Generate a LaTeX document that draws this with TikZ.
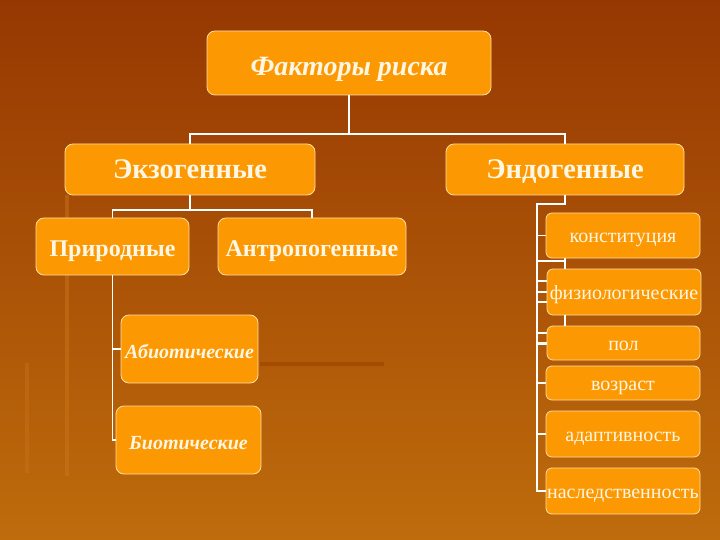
\documentclass[tikz,border=0pt]{standalone}
\usepackage{fontspec}
\setmainfont{Liberation Serif}
\definecolor{bgtop}{RGB}{150,56,2}
\definecolor{bgbot}{RGB}{190,108,12}
\definecolor{boxfill}{RGB}{252,152,2}
\definecolor{boxline}{RGB}{255,222,160}
\definecolor{txt}{RGB}{255,246,228}
\definecolor{deco}{RGB}{205,120,30}
\definecolor{darkbar}{RGB}{160,72,0}
\tikzset{
  box/.style={draw=boxline, line width=0.8pt, fill=boxfill, rounded corners=8pt,
    text=txt, inner sep=0pt, align=center},
  smallbox/.style={box, rounded corners=6pt},
  conn/.style={draw=white, line width=1.4pt},
  toptext/.style={font=\fontsize{28}{30}\selectfont\bfseries\itshape, text height=26.6pt, text depth=1.1pt},
  lvltext/.style={font=\fontsize{28.5}{30}\selectfont\bfseries, text height=20pt, text depth=1.1pt},
  subtext/.style={font=\fontsize{24}{28}\selectfont\bfseries, text height=21.6pt, text depth=0.7pt},
  ittext/.style={font=\fontsize{20}{24}\selectfont\bfseries\itshape, text height=19pt, text depth=0.8pt},
  rtext/.style={font=\fontsize{20}{24}\selectfont, text height=15pt, text depth=0.8pt},
}
\begin{document}
\begin{tikzpicture}[x=1pt,y=-1pt]
\useasboundingbox (0,0) rectangle (720,540);
\shade[top color=bgtop, bottom color=bgbot] (0,0) rectangle (720,540);
% faint background decoration
\fill[deco, opacity=0.45] (65,195) rectangle (69,476);
\fill[deco, opacity=0.35] (25,363) rectangle (29,473);
\fill[darkbar, opacity=0.8] (260,362) rectangle (384,366);

% nodes
\node[box, toptext, minimum width=284pt, minimum height=64pt] (top) at (349,63) {Факторы риска};
\node[box, lvltext, minimum width=250pt, minimum height=51pt] (exo) at (190,169.5) {Экзогенные};
\node[box, lvltext, minimum width=238pt, minimum height=51pt] (endo) at (565,169.5) {Эндогенные};
\node[box, subtext, minimum width=153pt, minimum height=57pt] (prir) at (112.5,246.5) {Природные};
\node[box, subtext, minimum width=188pt, minimum height=57pt] (antr) at (312,246.5) {Антропогенные};
\node[box, ittext, minimum width=137pt, minimum height=68pt] (abio) at (189.5,349) {Абиотические};
\node[box, ittext, minimum width=145pt, minimum height=68pt] (bio) at (188.5,440) {Биотические};
\node[smallbox, rtext, minimum width=154pt, minimum height=45pt] (konst) at (623,235.5) {конституция};
\node[smallbox, rtext, minimum width=154pt, minimum height=46pt] (fiz) at (624,292) {физиологические};
\node[smallbox, rtext, minimum width=153pt, minimum height=34pt] (pol) at (623.5,343) {пол};
\node[smallbox, rtext, minimum width=154pt, minimum height=34pt] (vozr) at (623,383) {возраст};
\node[smallbox, rtext, minimum width=154pt, minimum height=46pt] (adapt) at (623,434) {адаптивность};
\node[smallbox, rtext, minimum width=154pt, minimum height=46pt] (nasl) at (623,491) {наследственность};

% junctions
\coordinate (j1) at (349,134);
\coordinate (j2) at (190,210);
\coordinate (j3) at (537,204);

% connectors
\draw[conn] (top.south) -- (j1);
\draw[conn] (exo.north) |- (j1) -| (endo.north);
\draw[conn] (exo.south) -- (j2);
\draw[conn] (prir.north) |- (j2) -| (antr.north);
\draw[conn] (prir.south) -- (prir.south |- bio.west) -- (bio.west);
\draw[conn] (prir.south |- abio.west) -- (abio.west);

\draw[conn] (endo.south) |- (j3) -- (j3 |- nasl.west) -- (nasl.west);
\draw[conn] (j3 |- konst.west) -- (konst.west);
\draw[conn] (j3 |- fiz.west) -- (fiz.west);
\draw[conn] (j3 |- pol.west) -- (pol.west);
\draw[conn] (j3 |- vozr.west) -- (vozr.west);
\draw[conn] (j3 |- adapt.west) -- (adapt.west);
\draw[conn] ([yshift=11pt]j3 |- fiz.west) -- ([yshift=11pt]fiz.west);
\draw[conn] ([yshift=-10pt]j3 |- fiz.west) -- ([yshift=-10pt]fiz.west);
\draw[conn] ([yshift=-1pt]j3 |- pol.west) -- ([yshift=-1pt]pol.west);
\draw[conn] ([yshift=10pt]j3 |- pol.west) -- ([yshift=10pt]pol.west);
% stubs between right boxes
\draw[conn] (endo.south |- konst.south) -- (endo.south |- fiz.north);
\draw[conn] (j3 |- 0,261) -- (endo.south |- 0,261);
\draw[conn] (endo.south |- fiz.south) -- (endo.south |- pol.north);
\end{tikzpicture}
\end{document}
